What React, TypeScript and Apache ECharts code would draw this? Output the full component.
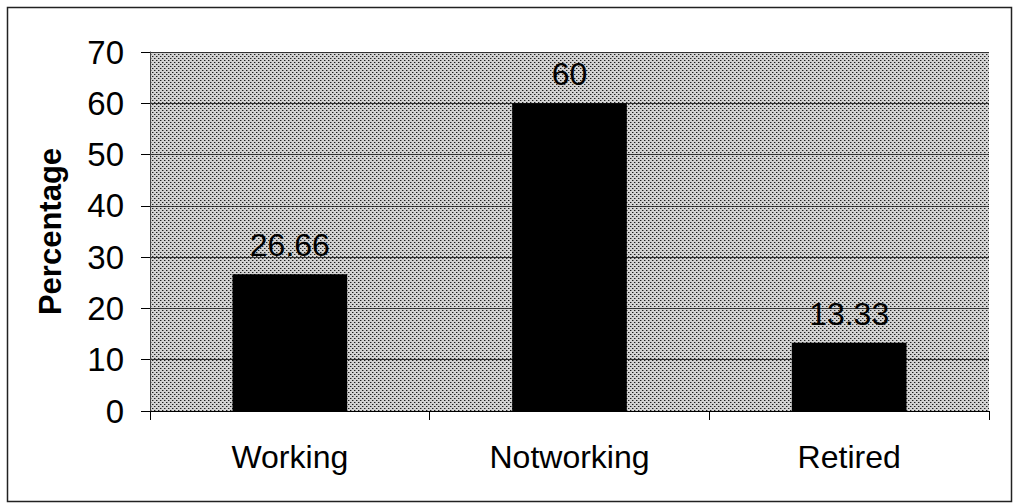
import React, { useEffect, useRef } from "react";
import * as echarts from "echarts";

// Employment status breakdown
const categories = ["Working", "Notworking", "Retired"];
const percentages = [26.66, 60, 13.33];
const yTicks = { min: 0, max: 70, interval: 10 };

// Small stippled tile used as the plot background (diagonal dot lattice)
function makeStipple(): HTMLCanvasElement {
  const c = document.createElement("canvas");
  c.width = 4;
  c.height = 4;
  const ctx = c.getContext("2d")!;
  ctx.fillStyle = "#d2d2d2";
  ctx.fillRect(0, 0, 4, 4);
  ctx.fillStyle = "#1e1e1e";
  ctx.fillRect(0, 0, 1, 1);
  ctx.fillRect(2, 2, 1, 1);
  ctx.fillStyle = "#8a8a8a";
  ctx.fillRect(1, 0, 1, 1);
  ctx.fillRect(3, 2, 1, 1);
  return c;
}

export default function App() {
  const ref = useRef<HTMLDivElement>(null);

  useEffect(() => {
    if (!ref.current) return;
    const chart = echarts.init(ref.current, null, { renderer: "svg" });
    const font = "'Liberation Sans', Arial, sans-serif";
    const stipple = makeStipple();

    chart.setOption({
      animation: false,
      backgroundColor: "#ffffff",
      textStyle: { fontFamily: font, color: "#000" },
      graphic: [
        {
          type: "rect",
          left: 5,
          top: 5,
          shape: { width: 1004, height: 494 },
          style: { fill: "none", stroke: "#222", lineWidth: 1.5 },
          silent: true,
        },
      ],
      grid: {
        left: 150,
        right: 24,
        top: 52,
        bottom: 93,
        show: true,
        borderWidth: 0,
        backgroundColor: {
          image: stipple,
          repeat: "repeat",
          imageWidth: 4,
          imageHeight: 4,
        },
      },
      xAxis: {
        type: "category",
        data: categories,
        axisLine: { lineStyle: { color: "#000", width: 1 } },
        axisTick: { show: true, length: 9, lineStyle: { color: "#000" } },
        axisLabel: {
          fontSize: 32,
          color: "#000",
          fontFamily: font,
          margin: 30,
        },
      },
      yAxis: {
        type: "value",
        min: yTicks.min,
        max: yTicks.max,
        interval: yTicks.interval,
        name: "Percentage",
        nameLocation: "middle",
        nameGap: 84,
        nameTextStyle: {
          fontSize: 31,
          fontWeight: "bold",
          color: "#000",
          fontFamily: font,
        },
        axisLine: { show: true, lineStyle: { color: "#444", width: 1 } },
        axisTick: { show: true, length: 9, lineStyle: { color: "#000" } },
        axisLabel: {
          fontSize: 33,
          color: "#000",
          fontFamily: font,
          margin: 26,
        },
        splitLine: { show: true, lineStyle: { color: "#333", width: 1 } },
      },
      series: [
        {
          type: "bar",
          data: percentages,
          barWidth: "41%",
          itemStyle: { color: "#000" },
          label: {
            show: true,
            position: "top",
            distance: 13,
            fontSize: 32,
            color: "#000",
            fontFamily: font,
          },
        },
      ],
    });

    return () => chart.dispose();
  }, []);

  return (
    <div
      ref={ref}
      style={{ position: "fixed", left: 0, top: 0, width: 1013, height: 504 }}
    />
  );
}
